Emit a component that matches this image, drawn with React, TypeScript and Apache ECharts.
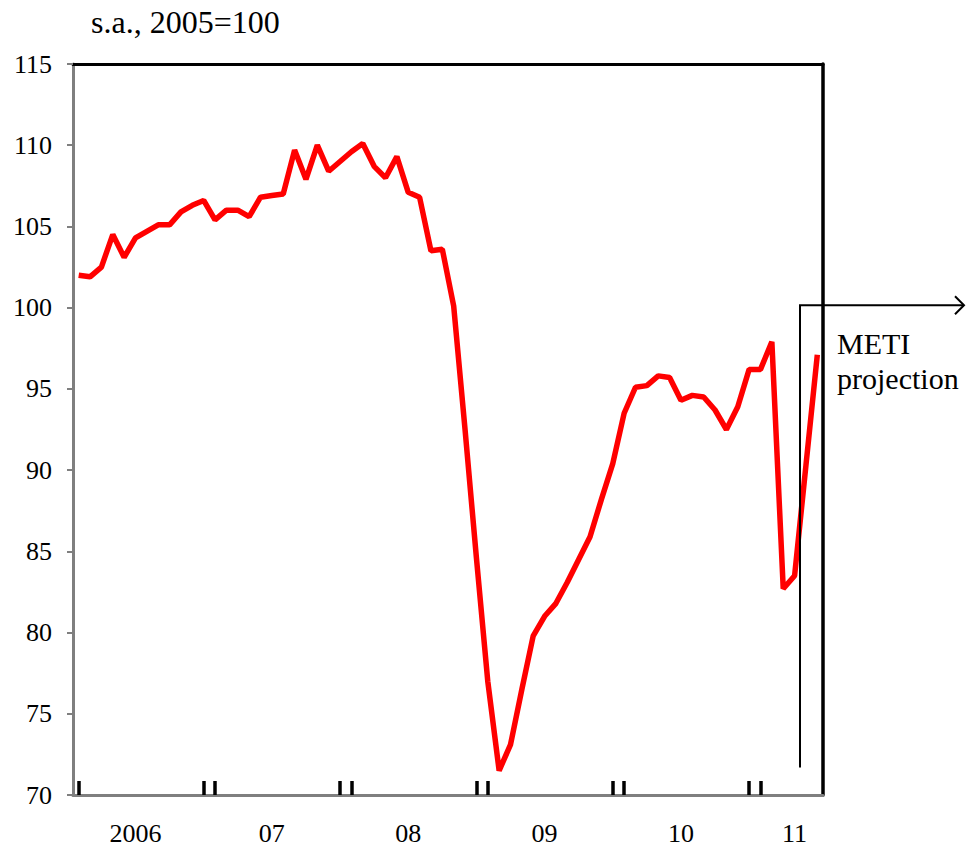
import React, { useEffect, useRef } from "react";
import * as echarts from "echarts";

// Monthly index, Jan 2006 – Jun 2011 (May/Jun 2011 = METI projection)
const categories: string[] = [];
for (let y = 2006; y <= 2011; y++) {
  for (let m = 1; m <= 12; m++) {
    if (y === 2011 && m > 6) break;
    categories.push(`${y}-${m < 10 ? "0" + m : m}`);
  }
}

const values = [
  102.0, 101.9, 102.5, 104.5, 103.1, 104.3, 104.7, 105.1, 105.1, 105.9,
  106.3, 106.6, 105.4, 106.0, 106.0, 105.6, 106.8, 106.9, 107.0, 109.7,
  107.9, 110.0, 108.4, 109.0, 109.6, 110.1, 108.7, 108.0, 109.3, 107.1,
  106.8, 103.5, 103.6, 100.1, 92.5, 84.6, 77.0, 71.5, 73.1, 76.5,
  79.8, 81.0, 81.8, 83.1, 84.5, 85.9, 88.2, 90.4, 93.5, 95.1,
  95.2, 95.8, 95.7, 94.3, 94.6, 94.5, 93.7, 92.5, 93.9, 96.2,
  96.2, 97.9, 82.7, 83.5, 90.3, 97.1,
];

const yearLabels = ["2006", "07", "08", "09", "10", "11"];
const yearLabelIndex = [5, 17, 29, 41, 53, 63];
const tickIndex = [0, 11, 12, 23, 24, 35, 36, 47, 48, 59, 60];

// projection bracket: between Apr and May 2011
const projectionStartIndex = 63;
const projectionTopValue = 100.15;
const projectionBottomValue = 71.7;

const FONT = '"Liberation Serif", "Times New Roman", serif';

export default function App() {
  const ref = useRef<HTMLDivElement>(null);

  useEffect(() => {
    if (!ref.current) return;
    const chart = echarts.init(ref.current, null, { renderer: "svg" });
    chart.setOption({
      animation: false,
      backgroundColor: "#ffffff",
      title: {
        text: "s.a., 2005=100",
        left: 91,
        top: 6,
        padding: 0,
        textStyle: { fontFamily: FONT, fontSize: 32, fontWeight: "normal", color: "#000" },
      },
      grid: { left: 73, right: 143, top: 64, bottom: 53 },
      xAxis: [
        {
          type: "category",
          data: categories,
          boundaryGap: true,
          position: "bottom",
          axisLine: { show: true, lineStyle: { color: "#7f7f7f", width: 3 } },
          axisTick: {
            show: true,
            alignWithLabel: true,
            inside: true,
            length: 14,
            interval: (i: number) => tickIndex.indexOf(i) >= 0,
            lineStyle: { color: "#000", width: 3.5 },
          },
          axisLabel: {
            interval: (i: number) => yearLabelIndex.indexOf(i) >= 0,
            formatter: (_v: string, i: number) => {
              const k = yearLabelIndex.indexOf(i);
              return k >= 0 ? yearLabels[k] : "";
            },
            margin: 25,
            fontFamily: FONT,
            fontSize: 26,
            color: "#000",
          },
          splitLine: { show: false },
        },
        {
          type: "category",
          data: categories,
          position: "top",
          axisLine: { show: true, lineStyle: { color: "#000", width: 3 } },
          axisTick: { show: false },
          axisLabel: { show: false },
          splitLine: { show: false },
        },
      ],
      yAxis: [
        {
          type: "value",
          min: 70,
          max: 115,
          interval: 5,
          position: "left",
          axisLine: { show: true, lineStyle: { color: "#7f7f7f", width: 3 } },
          axisTick: { show: true, length: 6, lineStyle: { color: "#7f7f7f", width: 2 } },
          axisLabel: { margin: 21, fontFamily: FONT, fontSize: 26, color: "#000" },
          splitLine: { show: false },
        },
        {
          type: "value",
          min: 70,
          max: 115,
          interval: 5,
          position: "right",
          axisLine: { show: true, lineStyle: { color: "#000", width: 3.5 } },
          axisTick: { show: false },
          axisLabel: { show: false },
          splitLine: { show: false },
        },
      ],
      series: [
        {
          type: "line",
          data: values,
          xAxisIndex: 0,
          yAxisIndex: 0,
          showSymbol: false,
          symbol: "none",
          lineStyle: { color: "#ff0000", width: 5.5 },
          z: 3,
        },
      ],
    });

    const p0 = chart.convertToPixel({ xAxisIndex: 0 }, projectionStartIndex) as number;
    const p1 = chart.convertToPixel({ xAxisIndex: 0 }, projectionStartIndex + 1) as number;
    const px = Math.round((p0 + p1) / 2);
    const yTop = chart.convertToPixel({ yAxisIndex: 0 }, projectionTopValue) as number;
    const yBot = chart.convertToPixel({ yAxisIndex: 0 }, projectionBottomValue) as number;
    const xEnd = 964;

    chart.setOption({
      graphic: [
        {
          type: "polyline",
          z: 10,
          shape: { points: [[px, yBot], [px, yTop], [xEnd, yTop]] },
          style: { stroke: "#000", lineWidth: 2, fill: "none" },
        },
        {
          type: "polyline",
          z: 10,
          shape: { points: [[xEnd - 9, yTop - 9], [xEnd, yTop], [xEnd - 9, yTop + 9]] },
          style: { stroke: "#000", lineWidth: 2, fill: "none" },
        },
        {
          type: "text",
          z: 10,
          x: 837,
          y: yTop + 21,
          style: {
            text: "METI\nprojection",
            fontFamily: FONT,
            fontSize: 30,
            lineHeight: 35,
            fill: "#000",
          },
        },
      ],
    });

    return () => chart.dispose();
  }, []);

  return (
    <div
      ref={ref}
      style={{ position: "absolute", left: 0, top: 0, width: 966, height: 848 }}
    />
  );
}
